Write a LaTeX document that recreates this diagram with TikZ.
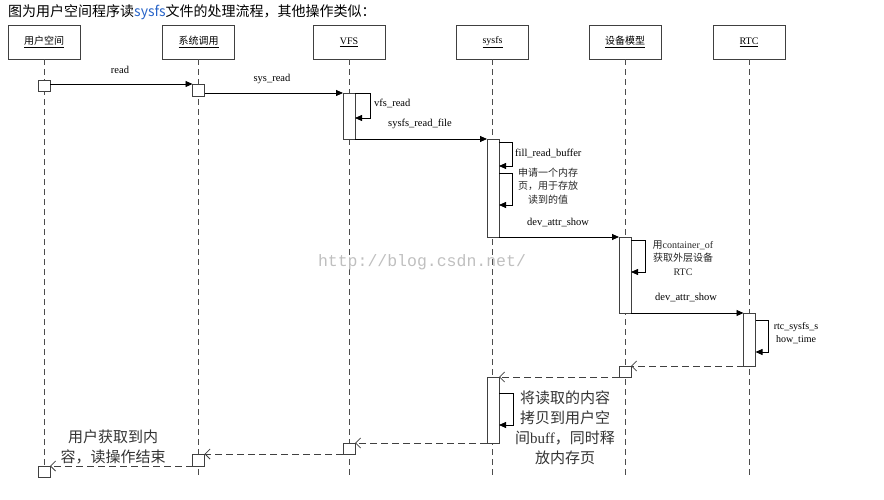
\documentclass[tikz,border=0pt]{standalone}
\usepackage{fontspec}
\setmainfont{Liberation Serif}
\newfontfamily\cjk{Noto Sans CJK SC}
\newfontfamily\wmfont{Liberation Mono}
\usetikzlibrary{arrows.meta,positioning}
\definecolor{titleblue}{RGB}{40,100,200}

\tikzset{
    headbox/.style={draw=black!75, line width=0.9pt, minimum width=72pt, minimum height=34pt, inner sep=0pt, font=\fontsize{10}{12}\selectfont},
    actbox/.style={draw=black!75, fill=white, line width=0.9pt, minimum width=12pt, inner sep=0pt, outer sep=0pt, anchor=north},
    lifeline/.style={draw=black!70, line width=0.8pt, dash pattern=on 6pt off 4pt},
    callmsg/.style={draw=black, line width=0.8pt, -{Triangle[length=7pt,width=6pt]}},
    retmsg/.style={draw=black!75, line width=0.8pt, dash pattern=on 7pt off 4pt, -{Straight Barb[length=5pt,width=10pt]}},
    msglabel/.style={font=\fontsize{10.5}{12}\selectfont, inner sep=0pt},
    notelabel/.style={font=\fontsize{10}{13.5}\selectfont, align=center, inner sep=0pt, text=black!85},
    bignote/.style={font=\fontsize{15}{20}\selectfont, align=center, inner sep=0pt, text=black!80},
}

\begin{document}
\begin{tikzpicture}[x=1pt,y=-1pt]
    \useasboundingbox (0,0) rectangle (884,500);
    \pgfmathsetmacro{\yhead}{42}
    \pgfmathsetmacro{\yend}{478}

    \node[anchor=west, font=\fontsize{14}{16}\selectfont, inner sep=0pt] (title) at (8,12)
        {\cjk 图为用户空间程序读\textcolor{titleblue}{sysfs}文件的处理流程，其他操作类似：};

    % lifelines
    \foreach \x/\name/\txt in {44/user/{\cjk 用户空间}, 198.5/sys/{\cjk 系统调用}, 349/vfs/VFS, 492.5/sysfs/sysfs, 625/dev/{\cjk 设备模型}, 749/rtc/RTC} {
            \node[headbox] (\name) at (\x,\yhead) {\underline{\txt}};
            \coordinate (\name end) at (\x,\yend);
            \draw[lifeline] (\name.south) -- (\name end);
        }

    % watermark
    \node[font=\wmfont\fontsize{16.5}{18}\selectfont, text=black!25, inner sep=0pt] (mark) at (422,262) {http://blog.csdn.net/};

    % activation boxes
    \node[actbox, minimum height=11pt] (ua1) at (44,80) {};
    \node[actbox, minimum height=12pt] (sa1) at (198.5,84) {};
    \node[actbox, minimum height=46pt] (va1) at (349,93) {};
    \node[actbox, minimum height=98pt] (fa1) at (493,139) {};
    \node[actbox, minimum height=76pt] (da1) at (625,237) {};
    \node[actbox, minimum height=53pt] (ra1) at (749.5,313) {};
    \node[actbox, minimum height=11pt] (dr1) at (625,366) {};
    \node[actbox, minimum height=66pt] (fa2) at (493,377) {};
    \node[actbox, minimum height=11pt] (vr1) at (349,443) {};
    \node[actbox, minimum height=12pt] (sr1) at (198.5,454) {};
    \node[actbox, minimum height=11pt] (ur1) at (44,466) {};

    % calls
    \draw[callmsg] (ua1.east |- sa1.north) -- (sa1.north west);
    \draw[callmsg] (sa1.east |- va1.north) -- (va1.north west);
    \draw[callmsg] (va1.north east) -- ++(15,0) |- ([yshift=-25pt]va1.north east);
    \draw[callmsg] (va1.south east) -- (fa1.north west);
    \draw[callmsg] ([yshift=-3pt]fa1.north east) -- ++(13,0) |- ([yshift=-27pt]fa1.north east);
    \draw[callmsg] ([yshift=-34pt]fa1.north east) -- ++(13,0) |- ([yshift=-66pt]fa1.north east);
    \draw[callmsg] (fa1.south east) -- (da1.north west);
    \draw[callmsg] ([yshift=-3pt]da1.north east) -- ++(14,0) |- ([yshift=-35pt]da1.north east);
    \draw[callmsg] (da1.south east) -- (ra1.north west);
    \draw[callmsg] ([yshift=-7pt]ra1.north east) -- ++(13,0) |- ([yshift=-39pt]ra1.north east);
    \draw[callmsg] ([yshift=-16pt]fa2.north east) -- ++(14,0) |- ([yshift=-48pt]fa2.north east);

    % returns
    \draw[retmsg] (ra1.south west) -- (dr1.north east);
    \draw[retmsg] (dr1.south west) -- (fa2.north east);
    \draw[retmsg] (fa2.south west) -- (vr1.north east);
    \draw[retmsg] (vr1.south west) -- (sr1.north east);
    \draw[retmsg] (sr1.south west) -- (ur1.north east);

    % labels
    \node[msglabel] (l read) at (120,70) {read};
    \node[msglabel] (l sysread) at (272,79) {sys\_read};
    \node[msglabel, anchor=west] (l vfsread) at (374,103) {vfs\_read};
    \node[msglabel] (l readfile) at (420,124) {sysfs\_read\_file};
    \node[msglabel, anchor=west] (l fill) at (515,153) {fill\_read\_buffer};
    \node[notelabel] (l page) at (548,186) {\cjk 申请一个内存\\\cjk 页，用于存放\\\cjk 读到的值};
    \node[msglabel] (l show) at (558,223) {dev\_attr\_show};
    \node[notelabel] (l container) at (683,258) {{\cjk 用}container\_of\\\cjk 获取外层设备\\RTC};
    \node[msglabel] (l show2) at (686,298) {dev\_attr\_show};
    \node[notelabel, text=black] (l rtc) at (796,333) {rtc\_sysfs\_s\\how\_time};
    \node[bignote] (l copy) at (565,428) {\cjk 将读取的内容\\\cjk 拷贝到用户空\\{\cjk 间}buff{\cjk ，同时释}\\\cjk 放内存页};
    \node[bignote] (l done) at (113,447) {\cjk 用户获取到内\\\cjk 容，读操作结束};

\end{tikzpicture}
\end{document}
